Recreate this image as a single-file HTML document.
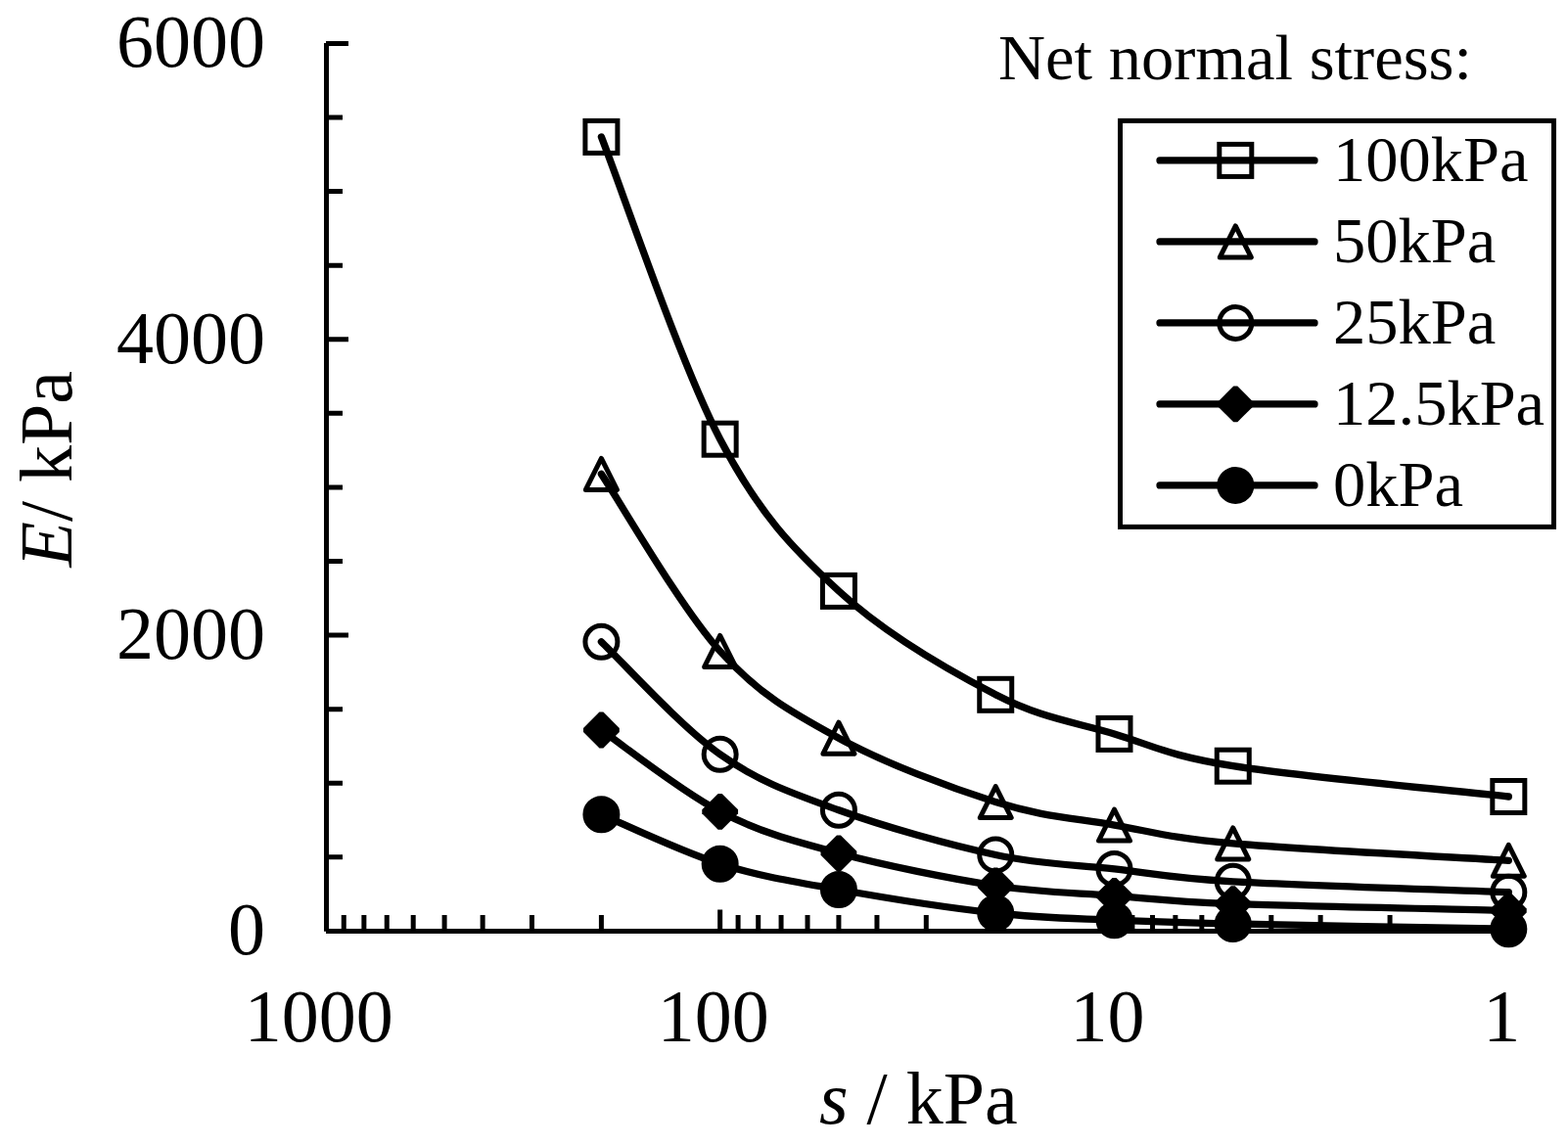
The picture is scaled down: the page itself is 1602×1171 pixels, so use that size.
<!DOCTYPE html><html><head><meta charset="utf-8"><style>html,body{margin:0;padding:0;background:#fff;}svg{display:block}text{font-family:"Liberation Serif","Times New Roman",serif;fill:#000}.mo{fill:none;stroke:#000;stroke-width:5.0;stroke-linejoin:round}.mf{fill:#000;stroke:#000;stroke-width:5.0;stroke-linejoin:round}.ln{fill:none;stroke:#000;stroke-width:7.3;stroke-linecap:round;stroke-linejoin:round}.ax{stroke:#000;stroke-width:5;fill:none}</style></head><body>
<svg width="1602" height="1171" viewBox="0 0 1602 1171">
<rect width="1602" height="1171" fill="#fff"/>
<path class="ax" d="M333.5 44 V951.8 M333.0 951.4 H1545 M333.0 951.40 h23.0 M333.0 875.82 h17.0 M333.0 800.23 h17.0 M333.0 724.65 h17.0 M333.0 649.07 h23.0 M333.0 573.48 h17.0 M333.0 497.90 h17.0 M333.0 422.32 h17.0 M333.0 346.73 h23.0 M333.0 271.15 h17.0 M333.0 195.57 h17.0 M333.0 119.98 h17.0 M333.0 44.40 h23.0 M735.66 951.4 v-22.0 M1138.49 951.4 v-22.0 M1541.32 951.4 v-22.0 M614.40 951.4 v-16.5 M543.46 951.4 v-16.5 M493.13 951.4 v-16.5 M454.09 951.4 v-16.5 M422.20 951.4 v-16.5 M395.23 951.4 v-16.5 M371.87 951.4 v-16.5 M351.26 951.4 v-16.5 M1017.23 951.4 v-16.5 M946.29 951.4 v-16.5 M895.96 951.4 v-16.5 M856.92 951.4 v-16.5 M825.03 951.4 v-16.5 M798.06 951.4 v-16.5 M774.70 951.4 v-16.5 M754.09 951.4 v-16.5 M1420.06 951.4 v-16.5 M1349.12 951.4 v-16.5 M1298.79 951.4 v-16.5 M1259.75 951.4 v-16.5 M1227.86 951.4 v-16.5 M1200.89 951.4 v-16.5 M1177.53 951.4 v-16.5 M1156.92 951.4 v-16.5"/>
<text x="271" y="975.3" font-size="76" text-anchor="end">0</text>
<text x="271" y="673.0" font-size="76" text-anchor="end">2000</text>
<text x="271" y="370.6" font-size="76" text-anchor="end">4000</text>
<text x="271" y="68.3" font-size="76" text-anchor="end">6000</text>
<text x="325.8" y="1063.8" font-size="76" text-anchor="middle">1000</text>
<text x="728.7" y="1063.8" font-size="76" text-anchor="middle">100</text>
<text x="1131.5" y="1063.8" font-size="76" text-anchor="middle">10</text>
<text x="1534.3" y="1063.8" font-size="76" text-anchor="middle">1</text>
<text x="837" y="1148.2" font-size="76"><tspan font-style="italic">s</tspan> / kPa</text>
<text transform="translate(72.9,579.5) rotate(-90)" font-size="76"><tspan font-style="italic">E</tspan>/ kPa</text>
<path class="ln" d="M614.40 139.90 C634.61 191.37 695.24 371.37 735.66 448.70 C776.08 526.03 810.00 560.38 856.92 603.90 C903.85 647.42 970.30 685.47 1017.23 709.80 C1064.15 734.13 1098.07 737.75 1138.49 749.90 C1178.91 762.05 1192.62 772.02 1259.75 782.70 C1326.89 793.38 1494.39 808.78 1541.32 814.00"/>
<path class="ln" d="M614.40 484.40 C634.61 514.57 695.24 620.43 735.66 665.40 C776.08 710.37 810.00 728.50 856.92 754.20 C903.85 779.90 970.30 804.78 1017.23 819.60 C1064.15 834.42 1098.07 836.05 1138.49 843.10 C1178.91 850.15 1192.62 855.87 1259.75 861.90 C1326.89 867.93 1494.39 876.40 1541.32 879.30"/>
<path class="ln" d="M614.40 655.80 C634.61 674.97 695.24 742.13 735.66 770.80 C776.08 799.47 810.00 810.68 856.92 827.80 C903.85 844.92 970.30 863.48 1017.23 873.50 C1064.15 883.52 1098.07 883.35 1138.49 887.90 C1178.91 892.45 1192.62 896.83 1259.75 900.80 C1326.89 904.77 1494.39 909.88 1541.32 911.70"/>
<path class="ln" d="M614.40 746.00 C634.61 759.88 695.24 808.33 735.66 829.30 C776.08 850.27 810.00 859.18 856.92 871.80 C903.85 884.42 970.30 897.75 1017.23 905.00 C1064.15 912.25 1098.07 912.20 1138.49 915.30 C1178.91 918.40 1192.62 921.08 1259.75 923.60 C1326.89 926.12 1494.39 929.27 1541.32 930.40"/>
<path class="ln" d="M614.40 832.30 C634.61 840.70 695.24 869.92 735.66 882.70 C776.08 895.48 810.00 900.62 856.92 909.00 C903.85 917.38 970.30 927.80 1017.23 933.00 C1064.15 938.20 1098.07 938.37 1138.49 940.20 C1178.91 942.03 1192.62 942.50 1259.75 944.00 C1326.89 945.50 1494.39 948.33 1541.32 949.20"/>
<rect x="597.90" y="123.40" width="33.00" height="33.00" class="mo" style="stroke-linejoin:miter"/>
<rect x="719.16" y="432.20" width="33.00" height="33.00" class="mo" style="stroke-linejoin:miter"/>
<rect x="840.42" y="587.40" width="33.00" height="33.00" class="mo" style="stroke-linejoin:miter"/>
<rect x="1000.73" y="693.30" width="33.00" height="33.00" class="mo" style="stroke-linejoin:miter"/>
<rect x="1121.99" y="733.40" width="33.00" height="33.00" class="mo" style="stroke-linejoin:miter"/>
<rect x="1243.25" y="766.20" width="33.00" height="33.00" class="mo" style="stroke-linejoin:miter"/>
<rect x="1524.82" y="797.50" width="33.00" height="33.00" class="mo" style="stroke-linejoin:miter"/>
<path d="M614.40 468.40 L630.40 500.40 L598.40 500.40 Z" class="mo"/>
<path d="M735.66 649.40 L751.66 681.40 L719.66 681.40 Z" class="mo"/>
<path d="M856.92 738.20 L872.92 770.20 L840.92 770.20 Z" class="mo"/>
<path d="M1017.23 803.60 L1033.23 835.60 L1001.23 835.60 Z" class="mo"/>
<path d="M1138.49 827.10 L1154.49 859.10 L1122.49 859.10 Z" class="mo"/>
<path d="M1259.75 845.90 L1275.75 877.90 L1243.75 877.90 Z" class="mo"/>
<path d="M1541.32 863.30 L1557.32 895.30 L1525.32 895.30 Z" class="mo"/>
<circle cx="614.40" cy="655.80" r="16.5" class="mo"/>
<circle cx="735.66" cy="770.80" r="16.5" class="mo"/>
<circle cx="856.92" cy="827.80" r="16.5" class="mo"/>
<circle cx="1017.23" cy="873.50" r="16.5" class="mo"/>
<circle cx="1138.49" cy="887.90" r="16.5" class="mo"/>
<circle cx="1259.75" cy="900.80" r="16.5" class="mo"/>
<circle cx="1541.32" cy="911.70" r="16.5" class="mo"/>
<path d="M612.40 727.60 L616.40 727.60 L632.80 744.00 L632.80 748.00 L616.40 764.40 L612.40 764.40 L596.00 748.00 L596.00 744.00 Z" fill="#000"/>
<path d="M733.66 810.90 L737.66 810.90 L754.06 827.30 L754.06 831.30 L737.66 847.70 L733.66 847.70 L717.26 831.30 L717.26 827.30 Z" fill="#000"/>
<path d="M854.92 853.40 L858.92 853.40 L875.32 869.80 L875.32 873.80 L858.92 890.20 L854.92 890.20 L838.52 873.80 L838.52 869.80 Z" fill="#000"/>
<path d="M1015.23 886.60 L1019.23 886.60 L1035.63 903.00 L1035.63 907.00 L1019.23 923.40 L1015.23 923.40 L998.83 907.00 L998.83 903.00 Z" fill="#000"/>
<path d="M1136.49 896.90 L1140.49 896.90 L1156.89 913.30 L1156.89 917.30 L1140.49 933.70 L1136.49 933.70 L1120.09 917.30 L1120.09 913.30 Z" fill="#000"/>
<path d="M1257.75 905.20 L1261.75 905.20 L1278.15 921.60 L1278.15 925.60 L1261.75 942.00 L1257.75 942.00 L1241.35 925.60 L1241.35 921.60 Z" fill="#000"/>
<path d="M1539.32 912.00 L1543.32 912.00 L1559.72 928.40 L1559.72 932.40 L1543.32 948.80 L1539.32 948.80 L1522.92 932.40 L1522.92 928.40 Z" fill="#000"/>
<circle cx="614.40" cy="832.30" r="16.5" class="mf"/>
<circle cx="735.66" cy="882.70" r="16.5" class="mf"/>
<circle cx="856.92" cy="909.00" r="16.5" class="mf"/>
<circle cx="1017.23" cy="933.00" r="16.5" class="mf"/>
<circle cx="1138.49" cy="940.20" r="16.5" class="mf"/>
<circle cx="1259.75" cy="944.00" r="16.5" class="mf"/>
<circle cx="1541.32" cy="949.20" r="16.5" class="mf"/>
<text x="1020" y="80.9" font-size="66.5">Net normal stress:</text>
<rect x="1144.5" y="123.4" width="443" height="415" class="ax"/>
<path class="ln" d="M1185 163.9 H1343"/>
<rect x="1245.80" y="147.40" width="33.00" height="33.00" class="mo" style="stroke-linejoin:miter"/>
<text x="1362" y="184.8" font-size="66.5">100kPa</text>
<path class="ln" d="M1185 246.9 H1343"/>
<path d="M1262.30 230.90 L1278.30 262.90 L1246.30 262.90 Z" class="mo"/>
<text x="1362" y="267.8" font-size="66.5">50kPa</text>
<path class="ln" d="M1185 329.9 H1343"/>
<circle cx="1262.30" cy="329.90" r="16.5" class="mo"/>
<text x="1362" y="350.8" font-size="66.5">25kPa</text>
<path class="ln" d="M1185 412.9 H1343"/>
<path d="M1260.30 394.50 L1264.30 394.50 L1280.70 410.90 L1280.70 414.90 L1264.30 431.30 L1260.30 431.30 L1243.90 414.90 L1243.90 410.90 Z" fill="#000"/>
<text x="1362" y="433.8" font-size="66.5">12.5kPa</text>
<path class="ln" d="M1185 495.9 H1343"/>
<circle cx="1262.30" cy="495.90" r="16.5" class="mf"/>
<text x="1362" y="516.8" font-size="66.5">0kPa</text>
</svg></body></html>
